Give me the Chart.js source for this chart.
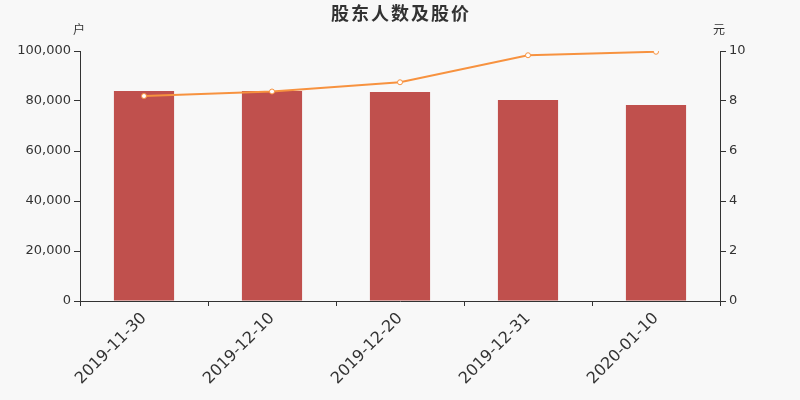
<!DOCTYPE html>
<html>
<head>
<meta charset="utf-8">
<script src="https://cdn.jsdelivr.net/npm/chart.js@4/dist/chart.umd.min.js"></script>
<style>
  html, body { margin: 0; padding: 0; background: #f8f8f8; }
  #wrap { width: 800px; height: 400px; }
</style>
</head>
<body>
<div id="wrap"><canvas id="myChart" width="800" height="400"></canvas></div>
<script>
var dates = ['2019-11-30', '2019-12-10', '2019-12-20', '2019-12-31', '2020-01-10'];
var holders = [84000, 84000, 83600, 80400, 78400];
var prices = [8.2, 8.38, 8.75, 9.83, 9.97];
var holderTicks = [0, 20000, 40000, 60000, 80000, 100000];
var priceTicks = [0, 2, 4, 6, 8, 10];

var FONT = "'DejaVu Sans', 'Noto Sans CJK SC', sans-serif";
var CJK = "'Noto Sans CJK SC', 'DejaVu Sans', sans-serif";

// title and axis unit labels
var extraText = {
    id: 'extraText',
    afterDraw: function(chart){
        var ctx = chart.ctx;
        var y = chart.scales.y, y1 = chart.scales.y1;
        ctx.save();
        ctx.fillStyle = '#333';
        ctx.textAlign = 'center';
        ctx.textBaseline = 'middle';
        ctx.font = 'bold 18px ' + CJK;
        ctx.letterSpacing = '2px';
        ctx.fillText('股东人数及股价', 401, 13);
        ctx.letterSpacing = '0px';
        ctx.font = '12px ' + CJK;
        ctx.fillText('户', y.right - 1, 29);
        ctx.fillText('元', y1.left - 1, 29);
        ctx.restore();
    }
};

var ctx = document.getElementById('myChart').getContext('2d');
var myChart = new Chart(ctx, {
    type: 'bar',
    data: {
        labels: dates,
        datasets: [{
            type: 'line',
            label: '股价',
            data: prices,
            yAxisID: 'y1',
            borderColor: '#f7923f',
            borderWidth: 2,
            pointRadius: 2.5,
            pointBorderWidth: 1,
            pointBackgroundColor: '#ffffff',
            pointBorderColor: '#f7923f',
            tension: 0,
            order: 0
        }, {
            label: '股东人数',
            data: holders,
            yAxisID: 'y',
            backgroundColor: '#c0504d',
            categoryPercentage: 1,
            barPercentage: 0.47,
            order: 1
        }]
    },
    options: {
        responsive: false,
        animation: false,
        layout: { padding: { top: 51, left: 0, right: 0, bottom: 0 } },
        plugins: {
            legend: { display: false },
            title: { display: false },
            tooltip: { enabled: false }
        },
        scales: {
            x: {
                offset: true,
                grid: { offset: true, drawOnChartArea: false, drawTicks: true, tickLength: 5, color: '#333' },
                border: { color: '#333', width: 1 },
                ticks: { color: '#333', font: { family: FONT, size: 16 }, maxRotation: 45, minRotation: 45, padding: 3 },
                afterFit: function(s){ s.height = 99; }
            },
            y: {
                position: 'left',
                min: 0, max: 100000,
                grid: { drawOnChartArea: false, drawTicks: true, tickLength: 6, color: '#333' },
                border: { color: '#333', width: 1 },
                afterBuildTicks: function(s){ s.ticks = holderTicks.map(function(v){ return { value: v }; }); },
                ticks: {
                    color: '#333', font: { family: FONT, size: 13 }, padding: 3,
                    callback: function(v){ return v.toLocaleString('en-US'); }
                },
                afterFit: function(s){ s.width = 80; }
            },
            y1: {
                position: 'right',
                min: 0, max: 10,
                grid: { drawOnChartArea: false, drawTicks: true, tickLength: 6, color: '#333' },
                border: { color: '#333', width: 1 },
                afterBuildTicks: function(s){ s.ticks = priceTicks.map(function(v){ return { value: v }; }); },
                ticks: { color: '#333', font: { family: FONT, size: 13 }, padding: 3 },
                afterFit: function(s){ s.width = 80; }
            }
        }
    },
    plugins: [extraText]
});
</script>
</body>
</html>
